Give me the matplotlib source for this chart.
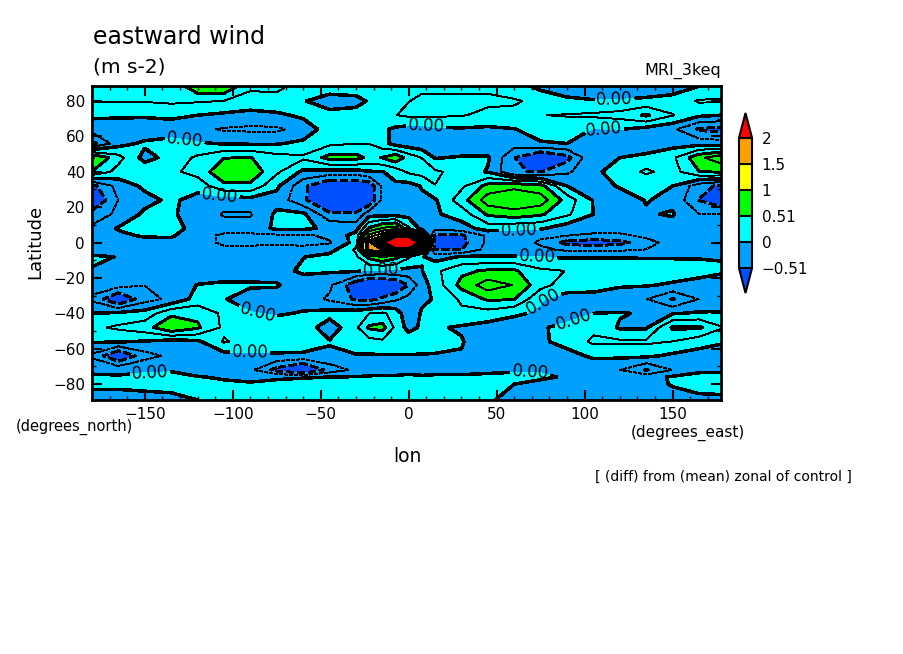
import matplotlib
matplotlib.use('Agg')
import matplotlib.pyplot as plt
import numpy as np

plt.rcParams['font.family'] = ['DejaVu Sans']

# grid (finer around the equatorial peak)
lons = [-180, -165, -150, -135, -120, -105, -90, -75, -60, -45, -30, -22.5, -15, -7.5,
        0, 7.5, 15, 30, 45, 60, 75, 90, 105, 120, 135, 150, 165, 180]
lats = [89, 80, 72, 64, 56, 48, 40, 32, 24, 16, 8, 4, 0, -4, -8, -16, -24, -32, -40,
        -48, -56, -64, -72, -76, -80, -89]

wind = [
    [.3, .3, .3, .35, .75, .8, .3, .3, .2, .2, .2, .2, .2, .2, .2, .2, .2, .2, .2, .1, -.1, -.15, -.2, -.2, -.2, -.15, -.02, .1],
    [.27, .27, .27, .3, .28, .25, .18, .2, .02, -.15, -.1, .03, .15, .2, .25, .3, .3, .3, .3, .28, .2, .05, .02, .02, .06, .1, .28, .28],
    [.05, .05, .04, .06, .0, -.05, -.1, -.05, .05, .1, .12, .2, .25, .25, .3, .3, .3, .27, .2, .2, .25, .27, .3, .35, .55, .27, .05, -.01],
    [-.15, -.2, -.2, -.15, -.2, -.28, -.3, -.3, -.15, .12, .2, .2, .05, -.05, -.1, -.1, -.05, -.03, -.05, -.01, .1, .12, -.01, 0, -.1, -.2, -.55, -.6],
    [-.6, -.1, .05, .1, .03, -.02, -.03, -.02, .05, .2, .25, .25, .1, -.1, -.15, -.2, -.2, -.25, -.25, -.15, -.02, 0, -.1, -.25, -.25, -.1, -.1, -.15],
    [.8, .35, -.1, .1, .3, .5, .52, .35, .3, .6, .6, .45, .52, .7, .4, .25, -.02, .03, .03, -.5, -.85, -.6, -.02, 0, .1, .2, .7, 1.0],
    [.5, .15, .2, .2, .35, .7, .7, .3, -.05, -.1, -.1, -.02, -.01, .1, .3, .35, .3, .15, -.02, -.5, -.52, -.3, -.05, .1, .3, .15, .5, .55],
    [-.6, -.15, .05, .25, .1, .45, .45, .05, -.45, -.8, -.8, -.7, -.2, -.05, -.1, .02, .25, .2, .6, .7, .6, 0, -.1, .02, .03, 0, -.4, -.6],
    [-.8, -.25, -.08, .05, -.1, -.15, -.1, -.1, -.45, -.9, -.9, -.75, -.2, -.1, -.1, -.05, -.03, .4, .9, .98, .9, .4, -.02, -.1, .01, -.05, -.52, -.8],
    [-.4, -.2, .05, .03, -.1, -.28, -.28, .05, .05, -.45, -.45, -.1, -.1, -.1, -.1, -.1, -.03, .1, .55, .65, .55, .3, 0, -.1, -.02, .02, -.25, -.25],
    [-.2, .02, .1, .1, -.1, -.15, -.15, .05, .05, -.05, -.1, .55, .8, .9, .3, -.1, -.2, -.1, .1, .05, .03, -.15, -.15, -.15, -.05, -.1, -.15, -.15],
    [-.2, -.05, .03, .03, -.15, -.3, -.3, -.3, -.3, -.2, .1, 1.1, 1.5, 2.2, 2.2, .5, -.55, -.55, -.2, -.15, -.2, -.25, -.3, -.3, -.2, -.15, -.15, -.2],
    [-.2, -.15, -.1, -.08, -.15, -.3, -.3, -.28, -.3, -.28, .1, 1.7, 2.6, 7, 7, 2.0, -.6, -.6, -.2, -.1, -.3, -.6, -.65, -.6, -.35, -.15, -.1, -.15],
    [-.2, -.15, -.15, -.15, -.15, -.2, -.2, -.2, -.2, -.1, .3, 1.6, 1.8, 2.3, 2.2, .6, -.52, -.52, -.15, -.12, -.2, -.3, -.3, -.3, -.25, -.2, -.2, -.2],
    [.05, -.01, -.12, -.12, -.1, -.1, -.1, -.1, -.01, .08, .2, .6, .8, .6, .3, .02, -.1, .02, .02, .01, 0, -.03, -.02, -.02, -.02, -.02, -.02, -.01],
    [-.02, -.1, -.15, -.2, -.2, -.2, -.15, -.1, .05, .03, .03, -.02, -.05, -.05, -.08, -.01, .2, .45, .55, .55, .3, .25, .2, .2, .15, .12, .1, .02],
    [-.15, -.15, -.25, -.2, .01, .06, .04, .02, -.15, -.2, -.7, -.9, -.9, -.8, -.5, -.1, .1, .6, .9, .75, .35, .12, .1, .05, .02, -.03, -.1, -.1],
    [-.3, -.8, -.35, -.2, .1, .02, -.15, -.1, -.1, -.3, -.55, -.6, -.45, -.3, -.15, -.05, .02, .3, .55, .52, .02, -.1, -.1, -.25, -.25, -.53, -.25, -.15],
    [0, .05, .1, .45, .45, .2, .02, -.03, .02, .1, .15, .25, .3, .15, -.2, .03, .1, .2, .15, .03, -.03, -.08, 0, .02, -.03, -.02, .03, .02],
    [.2, .3, .4, .75, .55, .2, .2, .15, .15, -.15, .2, .55, .6, .2, -.1, .05, .03, -.03, -.1, -.1, -.02, .05, .2, -.03, -.03, .55, .55, .25],
    [.02, .02, -.02, -.1, -.05, .28, .15, .2, .15, .02, .15, .15, .2, .2, .2, .15, .1, .02, -.2, -.2, -.05, .1, .3, .3, .3, .25, .1, .02],
    [-.3, -.8, -.35, -.2, -.2, -.1, -.05, -.05, -.05, -.05, -.02, -.02, -.02, -.02, -.02, -.02, -.02, -.02, -.2, -.2, -.2, -.1, .05, .05, .05, -.05, -.1, -.15],
    [-.03, -.05, -.02, -.01, -.1, -.2, -.2, -.6, -.9, -.4, -.2, -.1, -.1, -.1, -.05, -.1, -.1, -.1, -.05, -.02, -.02, -.1, -.2, -.25, -.53, -.25, -.1, -.1],
    [.02, .02, .03, .03, .01, -.02, -.05, -.03, -.02, 0, .01, .02, .03, .03, .03, .03, .05, .05, .05, .04, .03, -.02, -.1, -.15, -.1, .03, .15, .2],
    [.05, .05, .08, .06, .03, .03, .02, .05, .1, .12, .15, .15, .15, .15, .15, .1, .1, .1, .03, 0, -.05, -.1, -.1, -.1, -.1, .02, .15, .2],
    [-.1, -.1, -.1, -.05, 0, .1, .15, .2, .2, .2, .2, .2, .2, .2, .2, .2, .15, .05, .02, -.05, -.2, -.2, -.15, -.1, -.1, -.1, -.1, -.1],
]

fill_levels = [-0.51, 0, 0.51, 1, 1.5, 2]
fill_colors = ['#0050ff', '#00a0ff', '#00ffff', '#00ff00', '#ffff00', '#ffa000', '#ff0000']
bar_labels = ['\u22120.51', '0', '0.51', '1', '1.5', '2']
line_step = 0.255

# where the 0.00 labels sit (lon, lat)
label_spots = [(-127, 60), (-107, 30), (10, 66), (117, 81), (111, 64), (63, 6), (73, -8),
               (-16, -13), (-86, -40), (-90, -62), (-147, -72), (69, -75), (76, -33), (94, -44)]

wind = np.array(wind)

fig = plt.figure(figsize=(9.04, 6.54), dpi=100)
ax = fig.add_axes([92 / 904, 1 - 400 / 654, 629 / 904, 314 / 654])

cf = ax.contourf(lons, lats, wind, levels=fill_levels, colors=fill_colors[1:-1], extend='both')
cf.cmap.set_under(fill_colors[0])
cf.cmap.set_over(fill_colors[-1])
cf.changed()

# thin lines every 0.255, thick ones at 0 and +-0.51, negatives dashed
thin = [-1 * line_step] + [k * line_step for k in range(1, 14) if k != 2]
thick = [-2 * line_step, 2 * line_step]
ax.contour(lons, lats, wind, levels=thin, colors='k', linewidths=0.7, antialiased=False,
           linestyles=['dashed' if l < 0 else 'solid' for l in thin])
ax.contour(lons, lats, wind, levels=thick, colors='k', linewidths=1.4, antialiased=False,
           linestyles=['dashed', 'solid'])
zero = ax.contour(lons, lats, wind, levels=[0], colors='k', linewidths=1.8, antialiased=False)
ax.clabel(zero, fmt='%.2f', fontsize=12, manual=label_spots, inline=True, inline_spacing=2)

ax.set_xlim(-180, 177.5)
ax.set_ylim(-89, 88.5)
ax.set_xticks([-150, -100, -50, 0, 50, 100, 150])
ax.set_xticklabels(['\u2212150', '\u2212100', '\u221250', '0', '50', '100', '150'])
ax.set_xticks(np.arange(-170, 180, 10), minor=True)
ax.set_yticks(np.arange(-80, 81, 20))
ax.set_yticklabels(['\u221280', '\u221260', '\u221240', '\u221220', '0', '20', '40', '60', '80'])
ax.set_yticks(np.arange(-80, 81, 10), minor=True)
ax.tick_params(which='major', direction='in', length=7, width=1.5, top=True, right=True, labelsize=11, pad=5)
ax.tick_params(which='minor', direction='in', length=3, width=1, top=True, right=True)
for s in ax.spines.values():
    s.set_linewidth(2)

# colour bar, its axes also holds the two end triangles
cax = fig.add_axes([739 / 904, 1 - 293 / 654, 13 / 904, 180 / 654])
cb = fig.colorbar(cf, cax=cax, ticks=fill_levels, extend='both', spacing='uniform',
                  extendfrac=0.19, drawedges=True)
cb.ax.set_yticklabels(bar_labels)
cb.ax.tick_params(length=0, labelsize=11, pad=7)
cb.outline.set_linewidth(1.5)
cb.dividers.set_linewidth(1.5)

# titles and notes
def px_text(x, y, s, **kw):
    fig.text(x / 904, 1 - y / 654, s, **kw)

px_text(93, 37, 'eastward wind', fontsize=17, va='center', ha='left')
px_text(93, 67, '(m s-2)', fontsize=14.5, va='center', ha='left')
px_text(721, 71, 'MRI_3keq', fontsize=11.5, va='center', ha='right')
px_text(35, 242, 'Latitude', fontsize=13, va='center', ha='center', rotation=90)
px_text(407, 457, 'lon', fontsize=13.5, va='center', ha='center')
px_text(16, 427, '(degrees_north)', fontsize=10.5, va='center', ha='left')
px_text(631, 433, '(degrees_east)', fontsize=11, va='center', ha='left')
px_text(595, 477, '[ (diff) from (mean) zonal of control ]', fontsize=10, va='center', ha='left')

fig.savefig('out.png', dpi=100)
